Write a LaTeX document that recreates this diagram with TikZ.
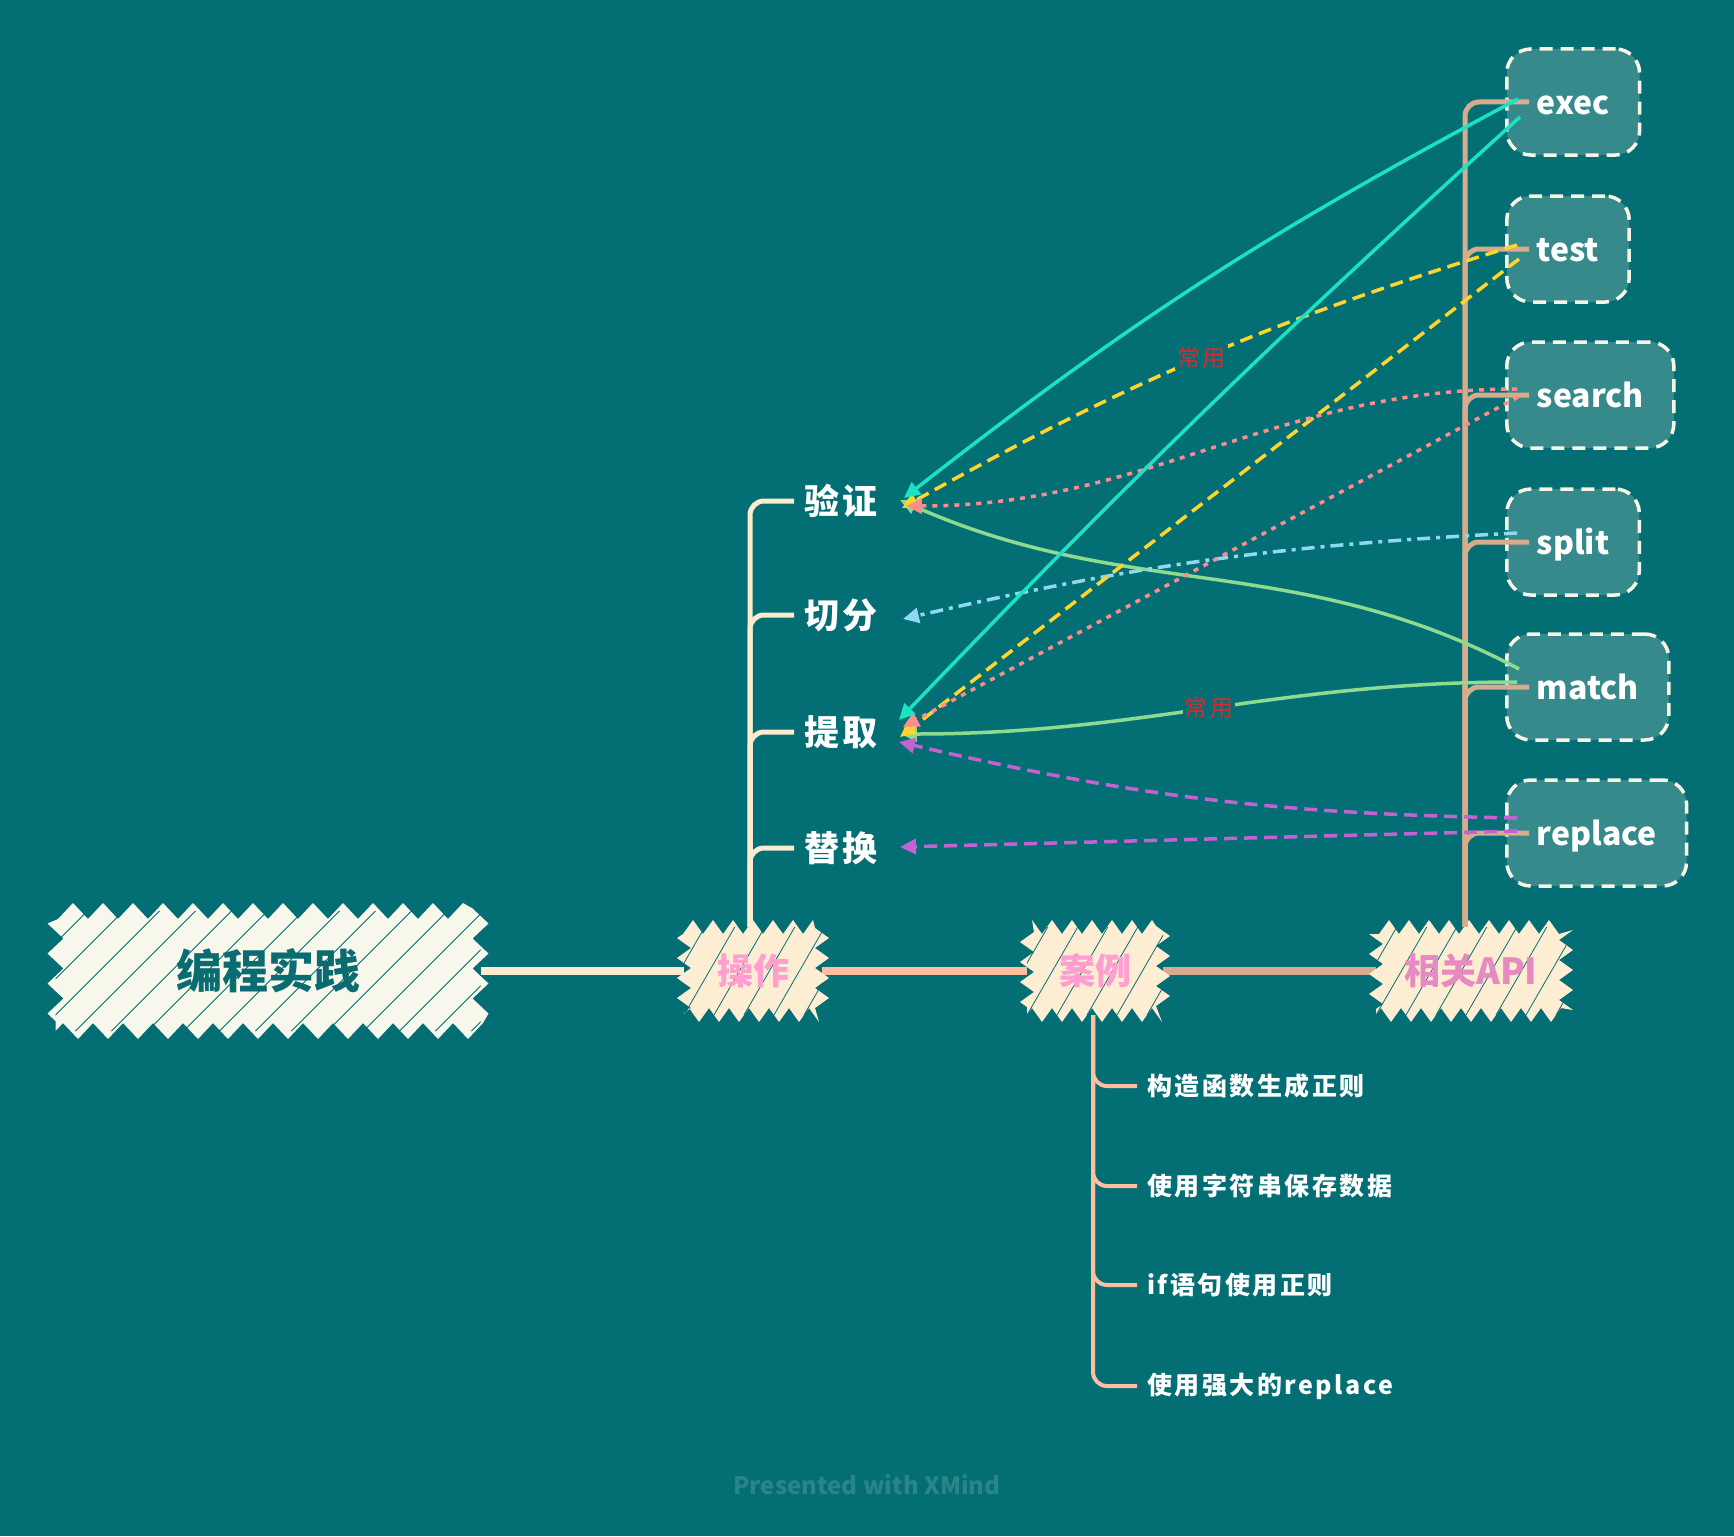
\documentclass[tikz,border=0pt]{standalone}
\usepackage{fontspec}
\setmainfont{Noto Sans CJK SC}
\newfontfamily\spaced{Noto Sans CJK SC}[LetterSpace=10]
\usetikzlibrary{decorations.pathmorphing, arrows.meta}
\definecolor{bg}{HTML}{036E73}
\definecolor{rootfill}{HTML}{F7F7EC}
\definecolor{roottext}{HTML}{0A6B70}
\definecolor{mainfill}{HTML}{FDEDD3}
\definecolor{optext}{HTML}{FF9ECF}
\definecolor{apitext}{HTML}{E68AC2}
\definecolor{cone}{HTML}{FDEBD0}
\definecolor{ctwo}{HTML}{FFBE9E}
\definecolor{cthree}{HTML}{D7AB8C}
\definecolor{boxfill}{HTML}{368A8C}
\definecolor{boxborder}{HTML}{F8F4E6}
\definecolor{rcyan}{HTML}{1BE2C4}
\definecolor{ryellow}{HTML}{FFD52B}
\definecolor{rpink}{HTML}{FF8C8C}
\definecolor{rblue}{HTML}{8ED8F2}
\definecolor{rgreen}{HTML}{8EDB90}
\definecolor{rpurple}{HTML}{C263D1}
\definecolor{labelred}{HTML}{E4262C}
\definecolor{wmark}{HTML}{2A8589}
\pgfdeclarelayer{bottom}
\pgfdeclarelayer{background}
\pgfsetlayers{bottom,background,main}
\begin{document}
\begin{tikzpicture}[x=1pt,y=-1pt,
  rootnode/.style={font=\bfseries\fontsize{46}{50}\selectfont, text=roottext, inner sep=0pt,
    minimum width=425pt, minimum height=120pt,
    preaction={fill=rootfill, decorate, decoration={zigzag, segment length=30pt, amplitude=8pt}},
    path picture={\foreach \k in {0,...,16}{\draw[bg, line width=0.8pt] ([xshift=\k*36pt-160pt]path picture bounding box.south west) -- ++(200pt,200pt);}}},
  mainnode/.style={font=\bfseries\fontsize{36}{40}\selectfont, text=optext, inner sep=0pt,
    minimum height=88pt,
    preaction={fill=mainfill, decorate, decoration={zigzag, segment length=20pt, amplitude=7pt}},
    path picture={\foreach \k in {0,...,12}{\draw[bg, line width=0.8pt] ([xshift=\k*30pt-90pt]path picture bounding box.south west) -- ++(75pt,130pt);}}},
  opchild/.style={font=\spaced\bfseries\fontsize{35}{40}\selectfont, text=white, inner xsep=10pt, inner ysep=4pt},
  casechild/.style={font=\spaced\bfseries\fontsize{25}{30}\selectfont, text=white, inner xsep=8pt, inner ysep=3pt, anchor=west},
  apibox/.style={anchor=west, fill=boxfill, draw=boxborder, dash pattern=on 13pt off 8pt, line width=3.5pt,
    rounded corners=24pt, minimum height=106pt, inner xsep=30pt, text=white,
    font=\bfseries\fontsize{32}{36}\selectfont, text height=32pt, text depth=7pt},
  mainline/.style={line width=8.5pt},
  branchline/.style={line width=5pt, rounded corners=14pt},
  rel/.style={line width=3.5pt, -{Triangle[length=16pt,width=15pt]}},
  lbl/.style={fill=bg, text=labelred, font=\spaced\fontsize{23}{26}\selectfont, inner sep=2pt}
]
\begin{pgfonlayer}{bottom}
\fill[bg] (0,0) rectangle (1734,1536);
\end{pgfonlayer}
\useasboundingbox (0,0) rectangle (1734,1536);

% main nodes
\node[rootnode] (root) at (268,971) {编程实践};
\node[mainnode, minimum width=138pt] (op) at (753,971) {操作};
\node[mainnode, minimum width=136pt] (case) at (1095,971) {案例};
\node[mainnode, minimum width=190pt, text=apitext] (api) at (1471,971) {相关API};

% 操作 children
\node[opchild] (yz) at (841,501) {验证};
\node[opchild] (qf) at (841,615) {切分};
\node[opchild] (tq) at (841,732) {提取};
\node[opchild] (th) at (841,848) {替换};

% 案例 children
\node[casechild] (c1) at (1139,1086) {构造函数生成正则};
\node[casechild] (c2) at (1139,1186) {使用字符串保存数据};
\node[casechild] (c3) at (1139,1285) {if语句使用正则};
\node[casechild] (c4) at (1139,1386) {使用强大的replace};

% API boxes
\node[apibox] (exec) at (1505,102) {exec};
\node[apibox] (test) at (1505,249) {test};
\node[apibox] (search) at (1505,395) {search};
\node[apibox] (split) at (1505,542) {split};
\node[apibox] (match) at (1505,687) {match};
\node[apibox] (replace) at (1505,833) {replace};

\begin{pgfonlayer}{background}
\draw[mainline, cone] (root.east) -- (op.west);
\draw[mainline, ctwo] (op.east) -- (case.west);
\draw[mainline, cthree] (case.east) -- (api.west);
\foreach \ch in {yz,qf,tq,th}{
  \draw[branchline, cone] ([xshift=-3pt]op.north) |- (\ch.west);
}
\foreach \ch in {c1,c2,c3,c4}{
  \draw[branchline, ctwo, line width=4pt] ([xshift=-2pt]case.south) |- ([xshift=-2pt]\ch.west);
}
\end{pgfonlayer}

% API branches (over boxes)
\foreach \ch in {exec,test,search,split,match,replace}{
  \draw[branchline, cthree] ([xshift=-6pt]api.north) |- ([xshift=24pt]\ch.west);
}

% relationship arrows
\draw[rel, rgreen] ([xshift=14pt,yshift=18pt]match.west) to[out=152,in=-24] ([xshift=12pt,yshift=1pt]yz.east);
\draw[rel, rgreen] ([xshift=12pt,yshift=5pt]match.west) to[out=180,in=0]
  node[lbl, pos=0.5] {常用} ([xshift=13pt,yshift=-2pt]tq.east);
\draw[rel, rpurple, dash pattern=on 13pt off 7pt] ([xshift=12pt,yshift=15pt]replace.west) to[bend left=6] ([xshift=11pt,yshift=-10pt]tq.east);
\draw[rel, rpurple, dash pattern=on 13pt off 7pt] ([xshift=12pt,yshift=2pt]replace.west) to ([xshift=12pt,yshift=1pt]th.east);
\draw[rel, rblue, dash pattern=on 13pt off 6pt on 4pt off 6pt] ([xshift=12pt,yshift=9pt]split.west) to[bend right=5] ([xshift=15pt,yshift=-4pt]qf.east);
\draw[rel, ryellow, dash pattern=on 13pt off 7pt] ([xshift=14pt,yshift=-10pt]test.west) to ([xshift=12pt,yshift=-5pt]tq.east);
\draw[rel, ryellow, dash pattern=on 13pt off 7pt] ([xshift=12pt,yshift=4pt]test.west) to[bend right=6]
  node[lbl, pos=0.5] {常用} ([xshift=14pt,yshift=-7pt]yz.east);
\draw[rel, rpink, dash pattern=on 5pt off 6pt] ([xshift=13pt,yshift=-2pt]search.west) to ([xshift=15pt,yshift=5pt]tq.east);
\draw[rel, rpink, dash pattern=on 5pt off 6pt] ([xshift=12pt,yshift=6pt]search.west) to[out=180,in=0] ([xshift=18pt,yshift=-5pt]yz.east);
\draw[rel, rcyan] ([xshift=15pt,yshift=-15pt]exec.west) to[bend right=2] ([xshift=11pt,yshift=12pt]tq.east);
\draw[rel, rcyan] ([xshift=13pt,yshift=3pt]exec.west) to[bend right=5] ([xshift=16pt,yshift=3pt]yz.east);

% watermark
\node[font=\bfseries\fontsize{24}{28}\selectfont, text=wmark] (wm) at (867,1485) {Presented with XMind};
\end{tikzpicture}
\end{document}
